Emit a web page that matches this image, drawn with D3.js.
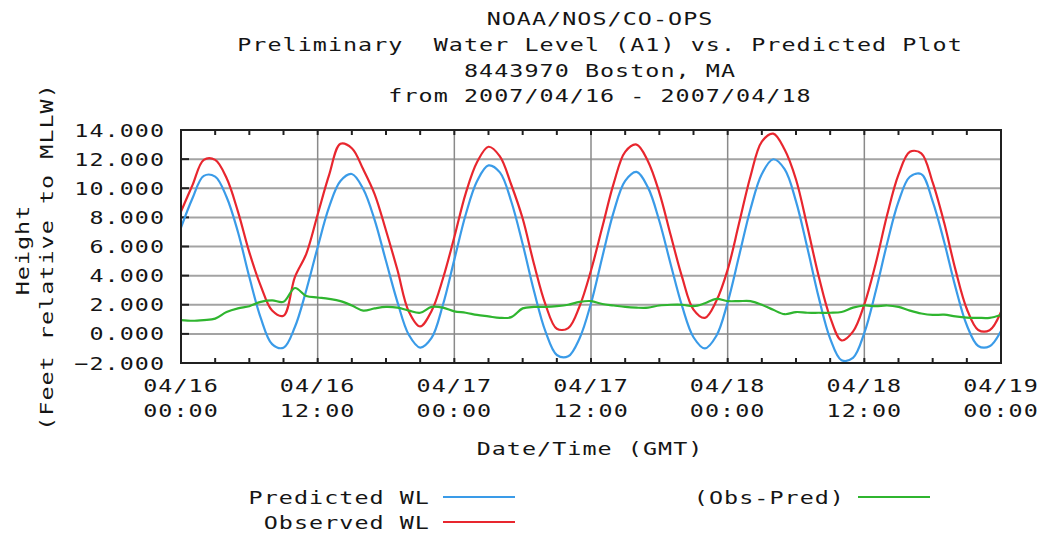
<!DOCTYPE html>
<html>
<head>
<meta charset="utf-8">
<script src="https://cdn.jsdelivr.net/npm/d3@7"></script>
<style>
  body { margin: 0; background: #ffffff; }
  text { font-family: "DejaVu Sans Mono", "Liberation Mono", monospace; font-size: 18px; letter-spacing: 0.8px; fill: #151515; }
</style>
</head>
<body>
<svg id="chart" width="1040" height="535"></svg>
<script>
// ---------------- data ----------------
const titleLines = [
  "NOAA/NOS/CO-OPS",
  "Preliminary  Water Level (A1) vs. Predicted Plot",
  "8443970 Boston, MA",
  "from 2007/04/16 - 2007/04/18"
];
const yAxisTitle = ["Height", "(Feet relative to MLLW)"];
const xAxisTitle = "Date/Time (GMT)";
const startTime = Date.UTC(2007, 3, 16, 0, 0);   // first sample, hourly steps
const endTime = Date.UTC(2007, 3, 19, 0, 0);
const yTicks = [-2, 0, 2, 4, 6, 8, 10, 12, 14];
const xTickLabels = [
  ["04/16", "00:00"], ["04/16", "12:00"], ["04/17", "00:00"], ["04/17", "12:00"],
  ["04/18", "00:00"], ["04/18", "12:00"], ["04/19", "00:00"]
];
const seriesNames = ["Predicted WL", "Observed WL", "(Obs-Pred)"];

// hourly values (feet), 04/16 00:00 .. 04/19 00:00
const predictedWL = [
  7.3, 9.3, 10.85, 10.8, 9.4, 7.0, 3.9, 1.1, -0.7, -0.95,
  0.47, 3.0, 5.95, 8.7, 10.5, 10.98, 9.95, 7.83, 5.0, 2.2,
  -0.06, -0.94, -0.28, 2.0, 5.1, 8.2, 10.5, 11.57, 11.09, 9.09,
  6.17, 2.93, 0.17, -1.45, -1.54, -0.3, 2.1, 5.3, 8.4, 10.5,
  11.12, 10.06, 7.75, 4.77, 1.9, -0.23, -1.0, -0.15, 2.16, 5.34,
  8.56, 10.98, 11.99, 11.31, 9.1, 5.9, 2.49, -0.32, -1.81, -1.65,
  0.07, 2.93, 6.21, 9.08, 10.79, 10.97, 9.1, 6.34, 3.21, 0.59,
  -0.83, -0.85, 0.2
];
const observedWL = [
  8.4, 10.2, 11.95, 11.95, 10.7, 8.4, 5.6, 3.3, 1.6, 1.25,
  3.9, 5.5, 8.2, 10.9, 13.05, 12.75, 11.3, 9.6, 7.1, 4.4,
  1.54, 0.51, 1.57, 3.8, 6.65, 9.65, 11.8, 12.85, 12.19, 10.24,
  7.92, 4.78, 2.02, 0.35, 0.4, 1.9, 4.35, 7.35, 10.35, 12.5,
  13.0, 11.86, 9.7, 6.77, 3.9, 1.67, 1.1, 2.25, 4.41, 7.59,
  10.81, 13.2, 13.75, 12.66, 10.6, 7.35, 3.94, 1.13, -0.45, 0.15,
  2.02, 4.83, 8.16, 10.93, 12.5, 12.4, 10.4, 7.66, 4.41, 1.71,
  0.27, 0.25, 1.5
];
const obsMinusPred = [
  0.95, 0.9, 0.95, 1.05, 1.5, 1.75, 1.9, 2.2, 2.3, 2.2,
  3.15, 2.6, 2.5, 2.4, 2.25, 1.95, 1.6, 1.75, 1.85, 1.8,
  1.6, 1.45, 1.85, 1.8, 1.55, 1.45, 1.3, 1.2, 1.1, 1.15,
  1.75, 1.85, 1.85, 1.9, 2.0, 2.2, 2.25, 2.05, 1.95, 1.85,
  1.8, 1.8, 1.95, 2.0, 2.0, 1.9, 2.1, 2.4, 2.25, 2.25,
  2.25, 2.0, 1.65, 1.35, 1.5, 1.45, 1.45, 1.45, 1.5, 1.8,
  1.95, 1.9, 1.95, 1.85, 1.6, 1.4, 1.3, 1.32, 1.2, 1.12,
  1.1, 1.1, 1.3
];

// ---------------- layout ----------------
const W = 1040, H = 535;
const plot = { left: 181, right: 1001, top: 130, bottom: 363 };
const colors = { pred: "#3a9be8", obs: "#e8262e", diff: "#2fb52f", grid: "#a3a3a3", vgrid: "#8a8a8a", frame: "#202020" };
const SX = 1.3; // wide glyphs, like the original bitmap font

const svg = d3.select("#chart");
svg.append("rect").attr("width", W).attr("height", H).attr("fill", "#fff");

function label(parent, tx, ty, str, anchor, rot) {
  const gg = parent.append("g")
    .attr("transform", `translate(${tx},${ty})` + (rot ? ` rotate(${rot})` : "") + ` scale(${SX},1)`);
  gg.append("text").attr("x", 0).attr("y", 0).attr("text-anchor", anchor || "start")
    .attr("xml:space", "preserve").text(str);
  return gg;
}

const x = d3.scaleUtc().domain([startTime, endTime]).range([plot.left, plot.right]);
const y = d3.scaleLinear().domain([-2, 14]).range([plot.bottom, plot.top]);
const HOUR = 3600 * 1000;
const timeAt = i => new Date(startTime + i * HOUR);

// titles
const titleBase = [25, 51, 77, 102];
const tg = svg.append("g");
titleLines.forEach((t, i) => label(tg, 600, titleBase[i], t, "middle"));

// horizontal gridlines
const g = svg.append("g");
g.selectAll("line.h").data(yTicks).join("line").attr("class", "h")
  .attr("x1", plot.left).attr("x2", plot.right)
  .attr("y1", d => y(d)).attr("y2", d => y(d))
  .attr("stroke", colors.grid).attr("stroke-width", 2);

// vertical gridlines every 12 h
const majorTimes = d3.utcHour.every(12).range(new Date(startTime), new Date(endTime + 1));
g.selectAll("line.v").data(majorTimes).join("line").attr("class", "v")
  .attr("x1", d => x(d)).attr("x2", d => x(d))
  .attr("y1", plot.top).attr("y2", plot.bottom)
  .attr("stroke", colors.vgrid).attr("stroke-width", 1.5);

// minor ticks every 3 h (top and bottom, inward)
const minorTimes = d3.utcHour.every(3).range(new Date(startTime), new Date(endTime + 1));
g.selectAll("line.tt").data(minorTimes).join("line")
  .attr("x1", d => x(d)).attr("x2", d => x(d))
  .attr("y1", plot.top).attr("y2", plot.top + 5)
  .attr("stroke", colors.frame).attr("stroke-width", 2);
g.selectAll("line.tb").data(minorTimes).join("line")
  .attr("x1", d => x(d)).attr("x2", d => x(d))
  .attr("y1", plot.bottom - 5).attr("y2", plot.bottom)
  .attr("stroke", colors.frame).attr("stroke-width", 2);
// left ticks
g.selectAll("line.tl").data(yTicks).join("line")
  .attr("x1", plot.left).attr("x2", plot.left + 8)
  .attr("y1", d => y(d)).attr("y2", d => y(d))
  .attr("stroke", colors.frame).attr("stroke-width", 2);

// series
svg.append("defs").append("clipPath").attr("id", "clip")
  .append("rect").attr("x", plot.left).attr("y", plot.top)
  .attr("width", plot.right - plot.left).attr("height", plot.bottom - plot.top);

const line = d3.line().x((d, i) => x(timeAt(i))).y(d => y(d)).curve(d3.curveCatmullRom.alpha(0.5));
const lines = svg.append("g").attr("clip-path", "url(#clip)");
[[predictedWL, colors.pred], [observedWL, colors.obs], [obsMinusPred, colors.diff]].forEach(([data, c]) => {
  lines.append("path").datum(data).attr("d", line)
    .attr("fill", "none").attr("stroke", c).attr("stroke-width", 2.2)
    .attr("stroke-linejoin", "round");
});

// frame
svg.append("rect").attr("x", plot.left).attr("y", plot.top)
  .attr("width", plot.right - plot.left).attr("height", plot.bottom - plot.top)
  .attr("fill", "none").attr("stroke", colors.frame).attr("stroke-width", 2);

// y tick labels
const yl = svg.append("g");
yTicks.forEach(v => label(yl, 165, y(v) + 6.5, d3.format(".3f")(v), "end"));

// x tick labels
const xlg = svg.append("g");
majorTimes.forEach((t, i) => {
  label(xlg, x(t), 392, xTickLabels[i][0], "middle");
  label(xlg, x(t), 417, xTickLabels[i][1], "middle");
});

// axis titles
const at = svg.append("g");
label(at, 590, 455, xAxisTitle, "middle");
label(at, 29, 250, yAxisTitle[0], "middle", -90);
label(at, 53, 257, yAxisTitle[1], "middle", -90);

// legend
const legend = [
  { name: seriesNames[0], color: colors.pred, tx: 430, y: 497 },
  { name: seriesNames[1], color: colors.obs, tx: 430, y: 522 },
  { name: seriesNames[2], color: colors.diff, tx: 845, y: 497 }
];
const lgg = svg.append("g");
legend.forEach(d => {
  label(lgg, d.tx, d.y + 6.5, d.name, "end");
  lgg.append("line").attr("x1", d.tx + 13).attr("x2", d.tx + 85)
    .attr("y1", d.y).attr("y2", d.y)
    .attr("stroke", d.color).attr("stroke-width", 2.2);
});
</script>
</body>
</html>
